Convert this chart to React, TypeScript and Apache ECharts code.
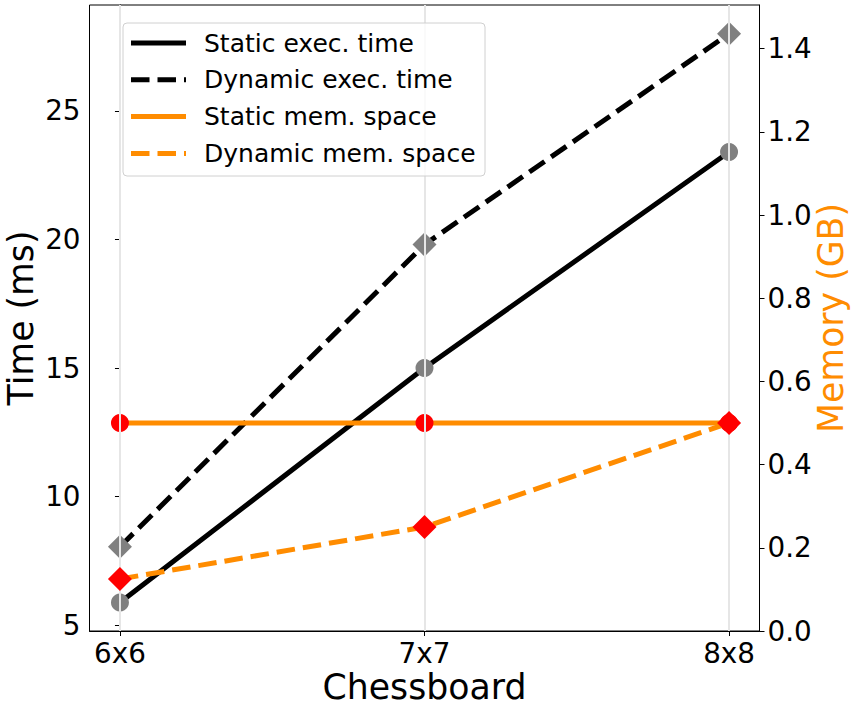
import React, { useEffect, useRef } from "react";
import * as echarts from "echarts";

const categories = ["6x6", "7x7", "8x8"];
const staticExecTime = [5.88, 15.0, 23.4];
const dynamicExecTime = [8.05, 19.8, 28.0];
const staticMem = [0.5, 0.5, 0.5];
const dynamicMem = [0.125, 0.25, 0.5];
const timeTicks = [5, 10, 15, 20, 25];
const memTicks = [0, 0.2, 0.4, 0.6, 0.8, 1.0, 1.2, 1.4];

const FONT = "DejaVu Sans";
const ORANGE = "#ff8c00";
const DASH = [18.5, 8];
const TICK_FS = 27.8;
const NAME_FS = 34.7;
const LEG_FS = 25;

function pts(vals: number[]) {
  return vals.map((v, i) => [i, v]);
}

export default function App() {
  const ref = useRef<HTMLDivElement>(null);
  useEffect(() => {
    if (!ref.current) return;
    const chart = echarts.init(ref.current, null, { renderer: "svg" });
    const legendItems = [
      { name: "Static exec. time", color: "#000", dash: false },
      { name: "Dynamic exec. time", color: "#000", dash: true },
      { name: "Static mem. space", color: ORANGE, dash: false },
      { name: "Dynamic mem. space", color: ORANGE, dash: true },
    ];
    const legendGraphics: any[] = [
      {
        type: "rect",
        shape: { x: 123, y: 23, width: 362, height: 153, r: 4 },
        style: { fill: "rgba(255,255,255,0.8)", stroke: "#d0d0d0", lineWidth: 1 },
        z: 100,
      },
    ];
    legendItems.forEach((it, i) => {
      const y = 43 + i * 36.8;
      legendGraphics.push({
        type: "line",
        shape: { x1: 131, y1: y, x2: 186, y2: y },
        style: { stroke: it.color, lineWidth: 5, lineDash: it.dash ? DASH : null },
        z: 101,
      });
      legendGraphics.push({
        type: "text",
        x: 204,
        y: y,
        style: {
          text: it.name,
          fontFamily: FONT,
          fontSize: LEG_FS,
          fill: "#000",
          verticalAlign: "middle",
          align: "left",
        },
        z: 101,
      });
    });

    const xMarks = categories.map((_, i) => ({ xAxis: i }));

    chart.setOption({
      animation: false,
      backgroundColor: "#fff",
      textStyle: { fontFamily: FONT },
      grid: {
        left: 89.5,
        top: 5,
        right: 96.5,
        bottom: 81,
        containLabel: false,
        outerBoundsMode: "none",
        show: true,
        borderColor: "#000",
        borderWidth: 1,
        backgroundColor: "transparent",
      },
      xAxis: {
        type: "value",
        min: -0.1,
        max: 2.1,
        name: "Chessboard",
        nameLocation: "middle",
        nameGap: 38,
        nameMoveOverlap: false,
        nameTextStyle: { fontSize: NAME_FS, color: "#000", fontFamily: FONT },
        axisLine: { show: true, lineStyle: { color: "#000", width: 1 } },
        axisTick: { show: true, length: 5, lineStyle: { color: "#000" }, customValues: [0, 1, 2] },
        axisLabel: {
          fontSize: TICK_FS,
          color: "#000",
          fontFamily: FONT,
          margin: 8,
          customValues: [0, 1, 2],
          formatter: (v: number) => categories[Math.round(v)] ?? "",
        },
        splitLine: { show: false },
      },
      yAxis: [
        {
          type: "value",
          min: 4.77,
          max: 29.12,
          name: "Time (ms)",
          nameLocation: "middle",
          nameGap: 51,
          nameMoveOverlap: false,
          nameRotate: 90,
          nameTextStyle: { fontSize: NAME_FS, color: "#000", fontFamily: FONT },
          axisLine: { show: true, lineStyle: { color: "#000", width: 1 } },
          axisTick: { show: true, length: 5, lineStyle: { color: "#000" }, customValues: timeTicks },
          axisLabel: { fontSize: TICK_FS, color: "#000", fontFamily: FONT, margin: 9, customValues: timeTicks },
          splitLine: { show: false },
        },
        {
          type: "value",
          min: 0,
          max: 1.505,
          position: "right",
          name: "Memory (GB)",
          nameLocation: "middle",
          nameGap: 53.5,
          nameMoveOverlap: false,
          nameRotate: 90,
          nameTextStyle: { fontSize: NAME_FS, color: ORANGE, fontFamily: FONT },
          axisLine: { show: true, lineStyle: { color: "#000", width: 1 } },
          axisTick: { show: true, length: 5, lineStyle: { color: "#000" }, customValues: memTicks },
          axisLabel: {
            fontSize: TICK_FS,
            color: "#000",
            fontFamily: FONT,
            margin: 8,
            customValues: memTicks,
            formatter: (v: number) => v.toFixed(1),
          },
          splitLine: { show: false },
        },
      ],
      series: [
        {
          type: "line",
          data: [],
          z: 1,
          silent: true,
          markLine: {
            silent: true,
            symbol: "none",
            label: { show: false },
            lineStyle: { color: "#e6e6e6", width: 2, type: "solid" },
            data: xMarks,
          },
        },
        {
          name: "Static exec. time",
          type: "line",
          yAxisIndex: 0,
          data: pts(staticExecTime),
          symbol: "circle",
          symbolSize: 18,
          lineStyle: { color: "#000", width: 5 },
          itemStyle: { color: "#808080" },
          z: 2,
        },
        {
          name: "Dynamic exec. time",
          type: "line",
          yAxisIndex: 0,
          data: pts(dynamicExecTime),
          symbol: "diamond",
          symbolSize: 24,
          lineStyle: { color: "#000", width: 5, type: DASH },
          itemStyle: { color: "#808080" },
          z: 3,
        },
        {
          name: "Static mem. space",
          type: "line",
          yAxisIndex: 1,
          data: pts(staticMem),
          symbol: "circle",
          symbolSize: 18,
          lineStyle: { color: ORANGE, width: 5 },
          itemStyle: { color: "#ff0000" },
          z: 4,
        },
        {
          name: "Dynamic mem. space",
          type: "line",
          yAxisIndex: 1,
          data: pts(dynamicMem),
          symbol: "diamond",
          symbolSize: 24,
          lineStyle: { color: ORANGE, width: 5, type: DASH },
          itemStyle: { color: "#ff0000" },
          z: 5,
        },
      ],
      graphic: legendGraphics,
    });
    return () => chart.dispose();
  }, []);
  return (
    <div
      ref={ref}
      style={{ position: "absolute", left: 0, top: 0, width: 856, height: 712, background: "#fff" }}
    />
  );
}
